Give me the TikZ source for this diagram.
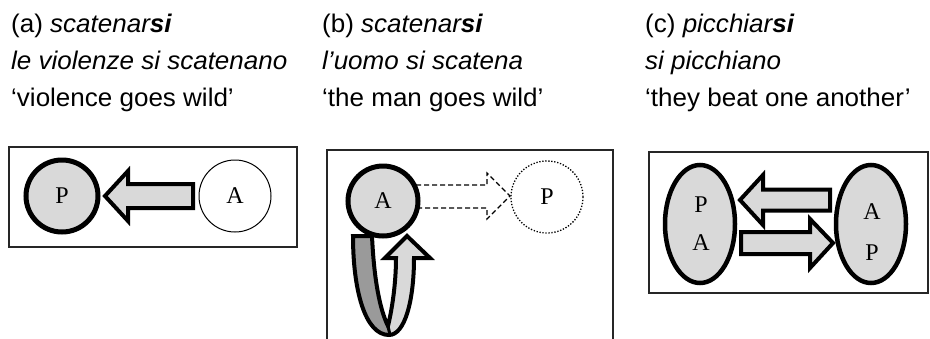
\documentclass[tikz,border=0pt]{standalone}
\usepackage{fontspec}
\setmainfont{Liberation Serif}
\newfontfamily\lab[FakeStretch=1.02]{Liberation Sans}
\usetikzlibrary{calc,shapes.geometric}
\definecolor{lgray}{HTML}{D9D9D9}
\definecolor{dgray}{HTML}{9A9A9A}
\begin{document}
\begin{tikzpicture}[x=1pt,y=-1pt,
  captxt/.style={font=\lab\fontsize{25.5}{30}\selectfont, anchor=base west, inner sep=0pt},
  ent/.style={circle, draw, inner sep=0pt, font=\fontsize{24}{28}\selectfont},
  lettr/.style={inner sep=0pt, font=\fontsize{24}{28}\selectfont},
  boxframe/.style={draw=black!85, line width=1.4pt},
  blockarr/.style={fill=lgray, draw, line width=4pt, line join=miter},
  oval/.style={ellipse, draw, fill=lgray, line width=4.5pt, minimum width=70pt, minimum height=118pt, inner sep=0pt},
]
\useasboundingbox (0,0) rectangle (930,338);

% captions
\node[captxt] (a1) at (11,32) {(a) \textit{scatenar\textbf{si}}};
\node[captxt] (a2) at (11,69) {\textit{le violenze si scatenano}};
\node[captxt] (a3) at (11,106) {‘violence goes wild’};
\node[captxt] (b1) at (322,32) {(b) \textit{scatenar\textbf{si}}};
\node[captxt] (b2) at (322,69) {\textit{l’uomo si scatena}};
\node[captxt] (b3) at (322,106) {‘the man goes wild’};
\node[captxt] (c1) at (645,32) {(c) \textit{picchiar\textbf{si}}};
\node[captxt] (c2) at (645,69) {\textit{si picchiano}};
\node[captxt] (c3) at (645,106) {‘they beat one another’};

% ---------- panel (a)
\draw[boxframe] (9,147) rectangle (297,247);
\node[ent, fill=lgray, line width=5pt, minimum size=72pt] (Pa) at (62,196) {P};
\node[ent, line width=1pt, minimum size=72pt] (Aa) at (235,196) {A};
\draw[blockarr] (105,196) -- (128,171) -- (128,184) -- (193,184) -- (193,208) -- (128,208) -- (128,221) -- cycle;

% ---------- panel (b)
\draw[boxframe] (327,345) -- (327,150) -- (613,150) -- (613,345);
\node[ent, fill=lgray, line width=5pt, minimum size=70pt] (Ab) at (383,201) {A};
\node[ent, dash pattern=on 1.3pt off 1.7pt, line width=1.3pt, minimum size=72pt] (Pb) at (547,197) {P};
\draw[line width=1.2pt, dash pattern=on 5pt off 3pt, line join=miter]
  (416,185) -- (487,185) -- (487,173) -- (510,196) -- (487,219) -- (487,208) -- (419,208);
% reflexive loop
\fill[lgray] (353,236) -- (372,236) .. controls (374,280) and (380,310) .. (388,326)
  .. controls (393,305) and (396,280) .. (396,258) -- (385,258) -- (407,236) -- (430,258) -- (414,258)
  .. controls (414,300) and (405,335) .. (389,335) .. controls (365,335) and (353,290) .. (353,236) -- cycle;
\fill[dgray] (353,236) -- (372,236) .. controls (374,280) and (380,310) .. (388,326) -- (389,335)
  .. controls (365,335) and (353,290) .. (353,236) -- cycle;
\draw[line width=4pt, line join=miter] (353,236) -- (372,236) .. controls (374,280) and (380,310) .. (388,326)
  .. controls (393,305) and (396,280) .. (396,258) -- (385,258) -- (407,236) -- (430,258) -- (414,258)
  .. controls (414,300) and (405,335) .. (389,335) .. controls (365,335) and (353,290) .. (353,236) -- cycle;
\draw[line width=3pt] (388,326) -- (390,335);

% ---------- panel (c)
\draw[boxframe] (649,152) rectangle (928,293);
\node[oval] (L) at (700,224) {};
\node[oval] (R) at (871,224) {};
\node[lettr] (Lp) at (701,205) {P};
\node[lettr] (La) at (701,243) {A};
\node[lettr] (Ra) at (872,212) {A};
\node[lettr] (Rp) at (872,253) {P};
\draw[blockarr] (740,200) -- (763,175) -- (763,189.5) -- (830,189.5) -- (830,210.5) -- (763,210.5) -- (763,225) -- cycle;
\draw[blockarr] (833,243) -- (810,219) -- (810,232) -- (741,232) -- (741,254) -- (810,254) -- (810,268) -- cycle;
\end{tikzpicture}
\end{document}
